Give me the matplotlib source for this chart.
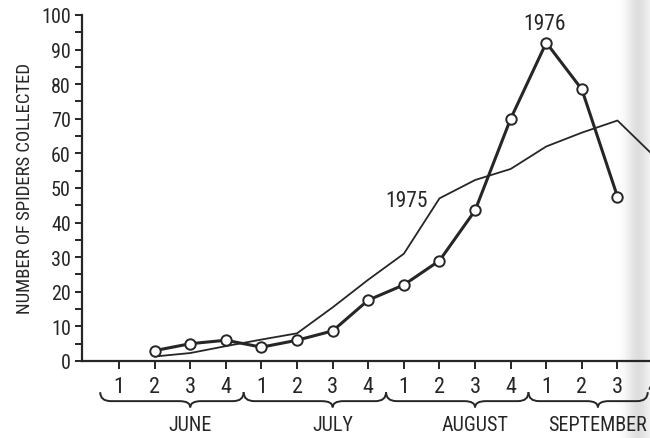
import numpy as np
import matplotlib
matplotlib.use("Agg")
import matplotlib.pyplot as plt
from matplotlib import font_manager as fm
from matplotlib.path import Path
from matplotlib.patches import PathPatch
from matplotlib.ticker import MultipleLocator

# ---- data -------------------------------------------------------------
week_labels = ["1", "2", "3", "4"] * 4
months = ["JUNE", "JULY", "AUGUST", "SEPTEMBER"]

# week index (0 = June week 1) of each sample
weeks_1976 = [1, 2, 3, 4, 5, 6, 7, 8, 9, 10, 11, 12, 13, 14]
counts_1976 = [3, 5, 6, 4, 6, 8.7, 17.6, 22, 29, 43.5, 70, 92, 78.5, 47.5]

weeks_1975 = [1, 2, 3, 4, 5, 6, 7, 8, 9, 10, 11, 12, 13, 14, 15]
counts_1975 = [1.3, 2.3, 4.3, 6.2, 8, 15.5, 23.5, 31, 47, 52.3, 55.5, 62, 66, 69.5, 59.5]

# ---- font: use a narrow face when one is installed --------------------
installed = {f.name for f in fm.fontManager.ttflist}
narrow_faces = ["Liberation Sans Narrow", "Noto Sans ExtraCondensed",
                "Noto Sans Condensed", "DejaVu Sans Condensed",
                "Roboto Condensed", "Open Sans Condensed",
                "Noto Sans SemiCondensed"]
stretch = "normal"
face = next((n for n in narrow_faces if n in installed), None)
if face is None:
    cond = [f for f in fm.fontManager.ttflist
            if f.name in ("DejaVu Sans", "Noto Sans", "Open Sans", "Roboto")
            and str(f.stretch) in ("condensed", "extra-condensed",
                                   "semi-condensed", "75", "62", "87")]
    if cond:
        face = cond[0].name
        stretch = str(cond[0].stretch)
narrow = face is not None
plt.rcParams["font.family"] = [face, "DejaVu Sans"] if narrow else ["DejaVu Sans"]
plt.rcParams["font.stretch"] = stretch

k = 1.0 if narrow else 0.8
ink = "#262626"

fig = plt.figure(figsize=(6.5, 4.39), dpi=100)

# faint grey band of the paper along the right edge
cols = np.arange(650)
shade = 1 - 0.13 * np.exp(-((cols - 638) / 12.0) ** 2)
fig.figimage(np.tile(shade, (439, 1)), cmap="gray", vmin=0, vmax=1, zorder=-5)

ax = fig.add_axes([0.1262, 0.1754, 0.884, 0.7882])
ax.patch.set_alpha(0)

ax.plot(weeks_1975, counts_1975, color=ink, lw=1.3, zorder=2)
ax.plot(weeks_1976, counts_1976, color=ink, lw=2.2, marker="o", ms=7.5,
        mfc="white", mec=ink, mew=1.4, zorder=3)

ax.set_xlim(-1.04, 15.1)
ax.set_ylim(0, 100)

for s in ("top", "right"):
    ax.spines[s].set_visible(False)
for s in ("left", "bottom"):
    ax.spines[s].set_linewidth(1.6)
    ax.spines[s].set_color(ink)

ax.yaxis.set_major_locator(MultipleLocator(10))
ax.yaxis.set_minor_locator(MultipleLocator(5))
ax.tick_params(axis="y", which="both", direction="out", length=5, width=1.4,
               color=ink, labelsize=14.5 * k, labelcolor=ink, pad=3)
ax.set_xticks(range(16))
ax.set_xticklabels(week_labels)
ax.tick_params(axis="x", direction="out", length=6, width=1.4, color=ink,
               labelsize=16 * k, labelcolor=ink, pad=5)

ax.set_ylabel("NUMBER OF SPIDERS COLLECTED", fontsize=13.5 * k, color=ink,
              labelpad=5)

ax.text(8.68, 46.5, "1975", ha="right", va="center", fontsize=15.5 * k, color=ink)
ax.text(11.95, 97.5, "1976", ha="center", va="center", fontsize=15.5 * k, color=ink)


# ---- month braces under the week numbers -----------------------------
def brace(x0, x1, xt, ytop=-9.0, ymid=-11.6, ybot=-13.4, r=0.3):
    verts = [(x0, ytop), (x0, ymid), (x0 + r, ymid),
             (xt - r, ymid), (xt, ymid), (xt, ybot),
             (xt, ymid), (xt + r, ymid),
             (x1 - r, ymid), (x1, ymid), (x1, ytop)]
    codes = [Path.MOVETO, Path.CURVE3, Path.CURVE3,
             Path.LINETO, Path.CURVE3, Path.CURVE3,
             Path.CURVE3, Path.CURVE3,
             Path.LINETO, Path.CURVE3, Path.CURVE3]
    ax.add_patch(PathPatch(Path(verts, codes), fill=False, ec=ink, lw=1.4,
                           clip_on=False))


brace_spans = [(-0.53, 3.5), (3.5, 7.5), (7.5, 11.5), (11.5, 14.85)]
brace_tips = [2.0, 6.0, 10.0, 13.45]
for (a, b), t, name in zip(brace_spans, brace_tips, months):
    brace(a, b, t)
    ax.text(t, -18.3, name, ha="center", va="center", fontsize=14.5 * k,
            color=ink, clip_on=False)

fig.savefig("out.png", dpi=100)
